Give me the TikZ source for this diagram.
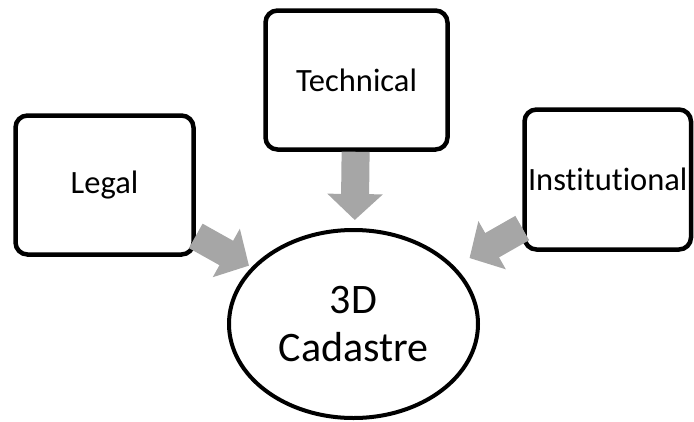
\documentclass[tikz,border=0pt]{standalone}
\usepackage{fontspec}
\setmainfont{Carlito}[Ligatures=NoCommon]
\usetikzlibrary{arrows.meta,shapes.geometric}
\definecolor{arrgray}{HTML}{A6A6A6}
\tikzset{
  boxnode/.style={draw=black, line width=4.5pt, rounded corners=12pt, fill=white,
    font=\fontsize{32.5}{36}\selectfont, inner sep=0pt},
  cadnode/.style={draw=black, line width=4pt, ellipse, fill=white, inner sep=0pt,
    minimum width=249pt, minimum height=188pt, align=center,
    font=\fontsize{42}{48}\selectfont},
  fatarrow/.style={draw=arrgray, line width=28pt,
    -{Triangle[width=54pt,length=26pt]}},
}
\begin{document}
\begin{tikzpicture}[x=1pt,y=-1pt]
\useasboundingbox (0,0) rectangle (694,421);
\node[boxnode, minimum width=178pt, minimum height=139pt] (legal) at (104.5,185) {Legal};
\node[boxnode, minimum width=182pt, minimum height=139pt] (tech) at (356.5,80) {Technical};
\node[boxnode, minimum width=166.5pt, minimum height=140pt] (inst) at (607.75,179.5) {\raisebox{-10pt}{Institutional}};
\node[cadnode] (cad) at (353.5,324) {3D\\Cadastre};
\draw[fatarrow, shorten >=3pt] (legal) -- (cad);
\draw[fatarrow, shorten >=8pt] (tech) -- (cad);
\draw[fatarrow, shorten >=17pt] (inst) -- (cad);
\end{tikzpicture}
\end{document}
